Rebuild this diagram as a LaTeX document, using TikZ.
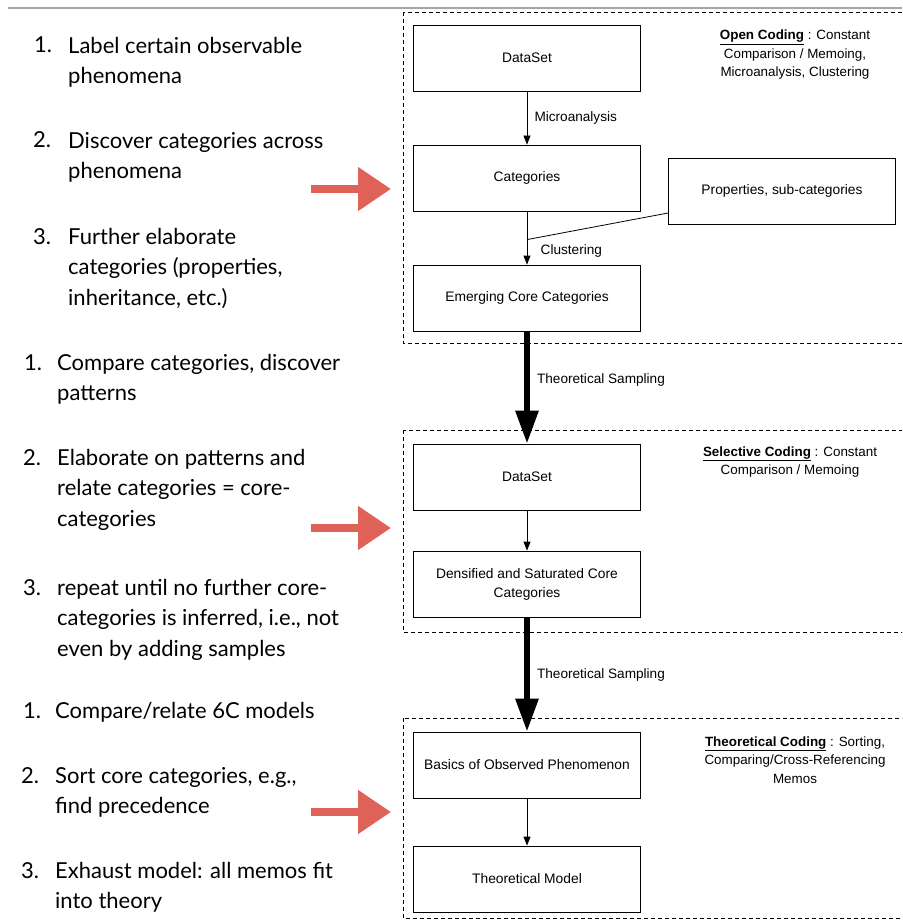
\documentclass[tikz,border=0pt]{standalone}
\usepackage{fontspec}
\setmainfont{Liberation Sans}
\newfontfamily\stepfont{Lato}
\usetikzlibrary{arrows.meta}
\definecolor{chalkred}{RGB}{222,98,88}

\tikzset{
	box/.style={draw, line width=0.8pt, minimum width=227pt, minimum height=66pt, align=center, font=\fontsize{13.8}{19}\selectfont},
	note/.style={align=center, font=\fontsize{13.4}{18.5}\selectfont},
	lbl/.style={font=\fontsize{13.6}{15}\selectfont},
	phase/.style={draw, line width=0.7pt, dash pattern=on 4pt off 3pt},
	thinarr/.style={-{Triangle[length=9pt,width=7pt]}, line width=0.8pt},
	thickarr/.style={-{Triangle[length=33pt,width=22pt]}, line width=6pt},
	redarr/.style={chalkred, line width=8pt, -{Triangle[length=33pt,width=42pt]}},
	num/.style={anchor=base west, inner sep=0pt, font=\stepfont\fontsize{22}{30.5}\selectfont},
	todo/.style={anchor=north west, inner sep=0pt, align=left, font=\stepfont\fontsize{22}{30.5}\selectfont}
}

\begin{document}
\begin{tikzpicture}[x=1pt,y=-1pt]
	\clip (0,0) rectangle (902,920);
	\draw[gray!70, line width=1.2pt] (8,8) -- (902,8);
	
	% phases
	\draw[phase] (403,12) rectangle (906,343);
	\draw[phase] (403,430) rectangle (906,632);
	\draw[phase] (403,718) rectangle (906,918);
	
	% open coding
	\node[box] (data1) at (527,58) {DataSet};
	\node[box] (cat) at (527,178) {Categories};
	\node[box] (emerge) at (527,298) {Emerging Core Categories};
	\node[box] (props) at (782,191) {Properties, sub-categories};
	\node[note] (open) at (795,55) {\underline{\textbf{Open Coding}} : Constant\\Comparison / Memoing,\\Microanalysis, Clustering};
	
	% selective coding
	\node[box] (data2) at (527,477) {DataSet};
	\node[box] (dense) at (527,584) {Densified and Saturated Core\\Categories};
	\node[note] (select) at (790,462) {\underline{\textbf{Selective Coding}} : Constant\\Comparison / Memoing};
	
	% theoretical coding
	\node[box] (basics) at (527,765) {Basics of Observed Phenomenon};
	\node[box] (model) at (527,879) {Theoretical Model};
	\node[note] (theo) at (795,760) {\underline{\textbf{Theoretical Coding}} : Sorting,\\Comparing/Cross-Referencing\\Memos};
	
	\path[thinarr]
	(data1) edge node [lbl, right] {~Microanalysis} (cat)
	(cat) edge node [lbl, right, pos=0.74, xshift=10pt] {Clustering} coordinate [pos=0.53] (join) (emerge)
	(data2) edge (dense)
	(basics) edge (model);
	\draw[line width=0.8pt] (props.west |- 0,213) -- (join);
	
	\path[thickarr]
	(emerge) edge node [lbl, right, pos=0.43] {~Theoretical Sampling} (data2)
	(dense) edge node [lbl, right, pos=0.5] {~Theoretical Sampling} (basics);
	
	% red hints
	\draw[redarr] (311,189) -- (391,189);
	\draw[redarr] (311,528) -- (391,528);
	\draw[redarr] (311,812) -- (391,812);
	
	% steps
	\node[num] (a1) at (34,53) {1.};
	\node[todo] (ta1) at (68,37) {Label certain observable\\phenomena};
	\node[num] (a2) at (33,148) {2.};
	\node[todo] (ta2) at (68,132) {Discover categories across\\phenomena};
	\node[num] (a3) at (33,244) {3.};
	\node[todo] (ta3) at (68,228) {Further elaborate\\categories (properties,\\inheritance, etc.)};
	
	\node[num] (b1) at (24,370) {1.};
	\node[todo] (tb1) at (57,354) {Compare categories, discover\\patterns};
	\node[num] (b2) at (23,465) {2.};
	\node[todo] (tb2) at (57,449) {Elaborate on patterns and\\relate categories = core-\\categories};
	\node[num] (b3) at (23,595) {3.};
	\node[todo] (tb3) at (57,579) {repeat until no further core-\\categories is inferred, i.e., not\\even by adding samples};
	
	\node[num] (c1) at (23,718) {1.};
	\node[todo] (tc1) at (55,702) {Compare/relate 6C models};
	\node[num] (c2) at (21,783) {2.};
	\node[todo] (tc2) at (55,767) {Sort core categories, e.g.,\\find precedence};
	\node[num] (c3) at (21,878) {3.};
	\node[todo] (tc3) at (55,862) {Exhaust model: all memos fit\\into theory};
\end{tikzpicture}
\end{document}
